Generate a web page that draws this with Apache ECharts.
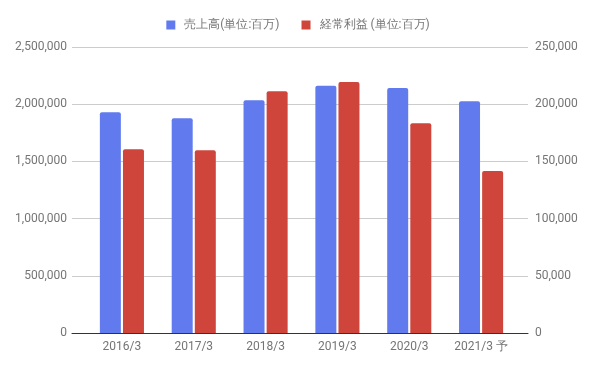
<!DOCTYPE html>
<html>
<head>
<meta charset="utf-8">
<script src="https://cdn.jsdelivr.net/npm/echarts@6/dist/echarts.min.js"></script>
<style>html,body{margin:0;padding:0;background:#fff}#c{width:596px;height:369px}</style>
</head>
<body>
<div id="c"></div>
<script>
const categories = ['2016/3', '2017/3', '2018/3', '2019/3', '2020/3', '2021/3 予'];
const salesName = '売上高(単位:百万)';
const profitName = '経常利益 (単位:百万)';
const sales = [1930000, 1877000, 2034000, 2162000, 2142000, 2025000];
const profit = [160600, 159700, 211300, 219400, 183300, 141600];
const leftTicks = [0, 500000, 1000000, 1500000, 2000000, 2500000];
const rightTicks = [0, 50000, 100000, 150000, 200000, 250000];

const fmt = v => v.toLocaleString('en-US');
const font = 'Roboto, Arial, sans-serif';
const chart = echarts.init(document.getElementById('c'));
chart.setOption({
  animation: false,
  textStyle: { fontFamily: font },
  legend: {
    top: 14, left: 'center',
    itemWidth: 9, itemHeight: 9, itemGap: 22,
    icon: 'rect',
    textStyle: { color: '#757575', fontSize: 12, fontFamily: font, padding: [0, 0, 0, 4] },
    data: [salesName, profitName]
  },
  grid: [
    { left: 72, right: 68, top: 47, bottom: 36 },
    { left: 86, right: 79, top: 47, bottom: 36 }
  ],
  xAxis: [
    { type: 'value', gridIndex: 0, min: 0, max: 1, axisLabel: { show: false }, axisTick: { show: false }, splitLine: { show: false },
      axisLine: { show: true, onZero: false, lineStyle: { color: '#333', width: 1 } } },
    { type: 'category', gridIndex: 1, data: categories, axisLine: { show: false }, axisTick: { show: false },
      axisLabel: { color: '#757575', fontSize: 12, margin: 8, fontFamily: font } }
  ],
  yAxis: [
    { type: 'value', gridIndex: 0, position: 'left', min: leftTicks[0], max: leftTicks[leftTicks.length - 1], interval: leftTicks[1] - leftTicks[0],
      axisLine: { show: false }, axisTick: { show: false },
      axisLabel: { color: '#757575', fontSize: 12, margin: 5, formatter: fmt, fontFamily: font },
      splitLine: { lineStyle: { color: '#cccccc', width: 1 } } },
    { type: 'value', gridIndex: 0, position: 'right', min: rightTicks[0], max: rightTicks[rightTicks.length - 1], interval: rightTicks[1] - rightTicks[0],
      axisLine: { show: false }, axisTick: { show: false },
      axisLabel: { color: '#757575', fontSize: 12, margin: 7, formatter: fmt, fontFamily: font },
      splitLine: { show: false } },
    { type: 'value', gridIndex: 1, min: leftTicks[0], max: leftTicks[leftTicks.length - 1], show: false, splitLine: { show: false } },
    { type: 'value', gridIndex: 1, min: rightTicks[0], max: rightTicks[rightTicks.length - 1], show: false, splitLine: { show: false } }
  ],
  series: [
    { name: salesName, type: 'bar', xAxisIndex: 1, yAxisIndex: 2, data: sales, barWidth: 21, barGap: '10%',
      itemStyle: { color: '#617bef', borderRadius: [2, 2, 0, 0] } },
    { name: profitName, type: 'bar', xAxisIndex: 1, yAxisIndex: 3, data: profit, barWidth: 21, barGap: '10%',
      itemStyle: { color: '#cf453c', borderRadius: [2, 2, 0, 0] } }
  ]
});
</script>
</body>
</html>
